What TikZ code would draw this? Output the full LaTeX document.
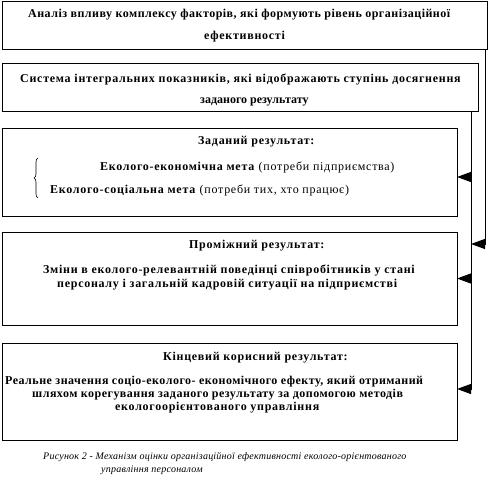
\documentclass[tikz,border=0pt]{standalone}
\usepackage{fontspec}
\setmainfont{Liberation Serif}
\newfontfamily\spacedserif[LetterSpace=6]{Liberation Serif}
\newfontfamily\tightserif[LetterSpace=4]{Liberation Serif}
\newfontfamily\plainserif{Liberation Serif}
\newfontfamily\capserif[LetterSpace=2.3]{Liberation Serif}
\usetikzlibrary{arrows.meta,decorations.pathreplacing}
\begin{document}
\begin{tikzpicture}[x=1pt,y=-1pt,
  box/.style={draw, line width=1pt, inner sep=0pt, outer sep=0pt},
  txt/.style={inner sep=0pt, anchor=west, font=\spacedserif\fontsize{12}{13}\selectfont\bfseries},
  tighttxt/.style={inner sep=0pt, anchor=west, font=\tightserif\fontsize{12}{13}\selectfont\bfseries},
  plaintxt/.style={inner sep=0pt, anchor=west, font=\plainserif\fontsize{12}{13}\selectfont\bfseries},
  captxt/.style={inner sep=0pt, anchor=west, font=\capserif\fontsize{10}{11}\selectfont\itshape},
  conn/.style={line width=1pt},
  arr/.style={line width=1pt, -{Triangle[length=14pt,width=10pt]}}]
\useasboundingbox (0,0) rectangle (494,497);
% boxes
\node[box, minimum width=485, minimum height=48] (b1) at (244.5,26) {};
\node[box, minimum width=476, minimum height=48] (b2) at (240,88) {};
\node[box, minimum width=455, minimum height=87] (b3) at (229.5,172.5) {};
\node[box, minimum width=455, minimum height=93] (b4) at (229.5,278.5) {};
\node[box, minimum width=455, minimum height=97] (b5) at (229.5,391.5) {};
% texts
\node[tighttxt] (t11) at (28,15) {Аналіз впливу комплексу факторів, які формують рівень організаційної};
\node[txt] (t12) at (204,37) {ефективності};
\node[txt] (t21) at (20,80) {Система інтегральних показників, які відображають ступінь досягнення};
\node[plaintxt] (t22) at (200,102) {заданого результату};
\node[txt] (t31) at (198,142) {Заданий результат:};
\node[txt] (t32) at (100,167) {Еколого-економічна мета \textmd{(потреби підприємства)}};
\node[txt] (t33) at (50,190) {Еколого-соціальна мета \textmd{(потреби тих, хто працює)}};
\draw[line width=0.6pt, decorate, decoration={brace, amplitude=4pt}] (38,198) -- (38,158);
\node[txt] (t41) at (189,246) {Проміжний результат:};
\node[txt] (t42) at (43,270) {Зміни в еколого-релевантній поведінці співробітників у стані};
\node[txt] (t43) at (57,285) {персоналу і загальній кадровій ситуації на підприємстві};
\node[txt] (t51) at (163,358) {Кінцевий корисний результат:};
\node[tighttxt] (t52) at (5,382) {Реальне значення соціо-еколого- економічного ефекту, який отриманий};
\node[tighttxt] (t53) at (32,395) {шляхом корегування заданого результату за допомогою методів};
\node[txt] (t54) at (115,408) {екологоорієнтованого управління};
\node[captxt] (c1) at (43,457) {Рисунок 2 - Механізм оцінки організаційної ефективності еколого-орієнтованого};
\node[captxt] (c2) at (101,470) {управління персоналом};
% connectors
\coordinate (ka) at (485,244);
\coordinate (ta) at (471,244);
\coordinate (kb) at (471,389);
\coordinate (y3) at (471,177);
\draw[conn] (b1.south -| ka) -- (ka);
\draw[arr] (ka) -- (ta);
\draw[conn] (b2.south -| kb) -- (kb);
\draw[arr] (y3) -- (y3 -| b3.east);
\draw[arr] (b4.east -| kb) -- (b4.east);
\draw[arr] (kb) -- (kb -| b5.east);
\end{tikzpicture}
\end{document}
